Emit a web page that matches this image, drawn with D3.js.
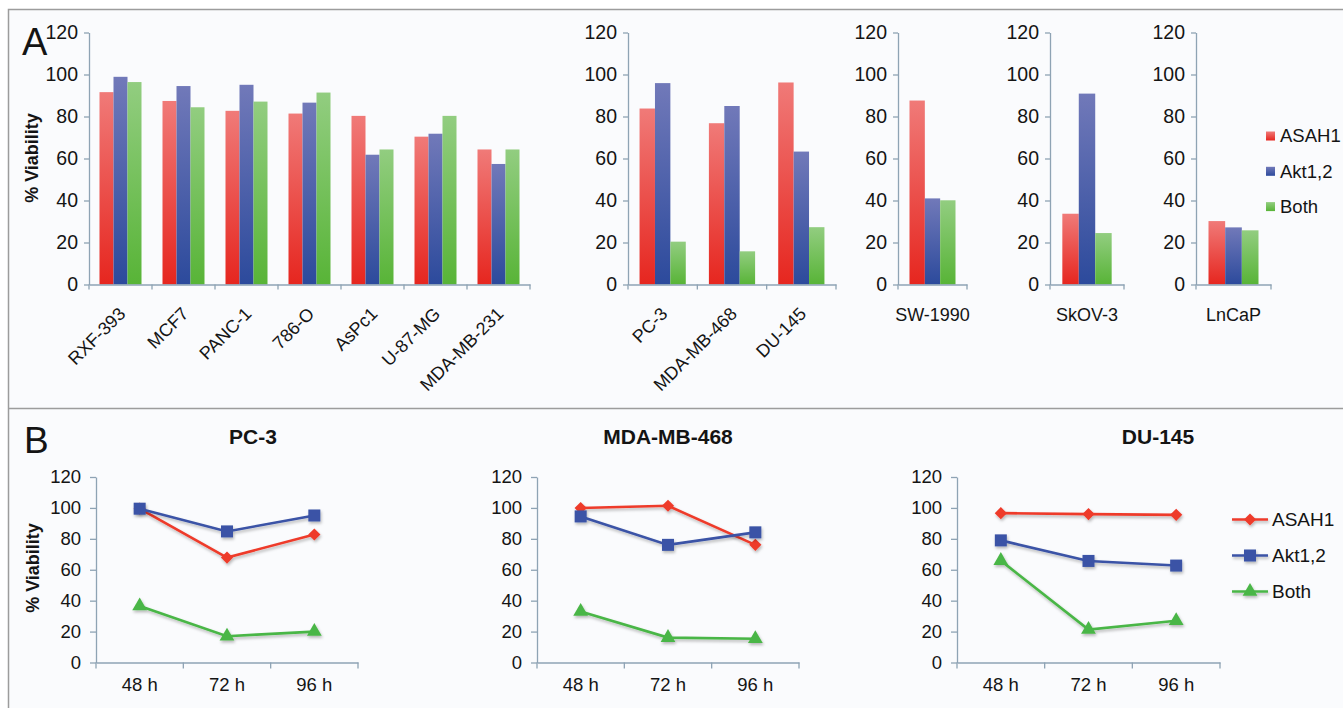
<!DOCTYPE html>
<html>
<head>
<meta charset="utf-8">
<script src="https://cdn.jsdelivr.net/npm/d3@7/dist/d3.min.js"></script>
<style>
  html, body { margin: 0; padding: 0; background: #ffffff; }
  svg { display: block; font-family: "Liberation Sans", Arial, Helvetica, sans-serif; }
</style>
</head>
<body>
<svg id="chart" width="1343" height="708"></svg>
<script>
// ---- data ----
const yTicks = [0, 20, 40, 60, 80, 100, 120];
const seriesNames = ["ASAH1", "Akt1,2", "Both"];

// Panel A: % viability per cell line
const barCategories = ["RXF-393", "MCF7", "PANC-1", "786-O", "AsPc1", "U-87-MG", "MDA-MB-231",
                       "PC-3", "MDA-MB-468", "DU-145", "SW-1990", "SkOV-3", "LnCaP"];
const barASAH1 = [91.6, 87.4, 82.7, 81.4, 80.3, 70.4, 64.3, 83.8, 76.8, 96.2, 87.6, 33.7, 30.2];
const barAkt   = [98.9, 94.5, 95.1, 86.6, 61.8, 71.8, 57.4, 95.9, 85.0, 63.3, 41.0, 90.9, 27.2];
const barBoth  = [96.4, 84.4, 87.1, 91.4, 64.3, 80.3, 64.3, 20.4, 15.8, 27.3, 40.1, 24.5, 25.8];

// Panel B: time course
const timePoints = ["48 h", "72 h", "96 h"];
const lineTitles = ["PC-3", "MDA-MB-468", "DU-145"];
const lineASAH1 = [[99.5, 67.9, 82.8], [99.9, 101.4, 76.1], [96.6, 96.0, 95.5]];
const lineAkt   = [[99.5, 84.8, 95.1], [94.5, 76.1, 84.2], [79.0, 65.7, 62.7]];
const lineBoth  = [[36.5, 17.0, 20.0], [33.0, 16.1, 15.4], [65.9, 21.3, 27.0]];

// ---- styling ----
const axisColor = "#8ea3b4";
const textColor = "#141414";
const barGrad = [
  { top: "#f07a78", bottom: "#e6261f" },
  { top: "#7179b9", bottom: "#2c4a9c" },
  { top: "#92cd80", bottom: "#58b437" }
];
const lineColors = ["#ee3b2b", "#3a53a6", "#4ab646"];

const svg = d3.select("#chart");
const defs = svg.append("defs");

barGrad.forEach((g, i) => {
  const lg = defs.append("linearGradient").attr("id", "bar" + i)
    .attr("x1", 0).attr("y1", 0).attr("x2", 0).attr("y2", 1);
  lg.append("stop").attr("offset", "0%").attr("stop-color", g.top);
  lg.append("stop").attr("offset", "100%").attr("stop-color", g.bottom);
});

const shadow = defs.append("filter").attr("id", "shadow")
  .attr("x", "-20%").attr("y", "-20%").attr("width", "140%").attr("height", "160%");
shadow.append("feDropShadow").attr("dx", 1).attr("dy", 2).attr("stdDeviation", 1.6)
  .attr("flood-color", "#000").attr("flood-opacity", 0.28);

// background and frame
svg.append("rect").attr("x", 8.5).attr("y", 9.5).attr("width", 1345).attr("height", 710)
  .attr("fill", "#fafbfd").attr("stroke", "#9c9c9c").attr("stroke-width", 1.5);
svg.append("line").attr("x1", 8.5).attr("x2", 1343).attr("y1", 408.5).attr("y2", 408.5)
  .attr("stroke", "#9c9c9c").attr("stroke-width", 1.5);

svg.append("text").attr("x", 22).attr("y", 55).attr("font-size", 38).attr("fill", textColor).text("A");
svg.append("text").attr("x", 24).attr("y", 453).attr("font-size", 37).attr("fill", textColor).text("B");

function styleAxis(g) {
  g.select(".domain").attr("stroke", axisColor).attr("stroke-width", 1.3);
  g.selectAll(".tick line").attr("stroke", axisColor).attr("stroke-width", 1.3);
  g.selectAll(".tick text").attr("fill", textColor);
}

// ---- Panel A: grouped bars ----
const barValues = [barASAH1, barAkt, barBoth];
const yA = d3.scaleLinear().domain([0, 120]).range([284.5, 32.5]);

const barPanels = [
  { from: 0, to: 7, x0: 89, x1: 530, rotate: true, title: true },
  { from: 7, to: 10, x0: 628, x1: 836, rotate: true },
  { from: 10, to: 11, x0: 898, x1: 967 },
  { from: 11, to: 12, x0: 1050, x1: 1124 },
  { from: 12, to: 13, x0: 1196, x1: 1271 }
];

barPanels.forEach(p => {
  const cats = barCategories.slice(p.from, p.to);
  const x = d3.scaleBand().domain(cats).range([p.x0, p.x1]).paddingInner(1 / 3).paddingOuter(1 / 6);
  const xs = d3.scaleBand().domain(seriesNames).range([0, x.bandwidth()]);
  const g = svg.append("g");

  cats.forEach((c, ci) => {
    const idx = p.from + ci;
    seriesNames.forEach((s, si) => {
      const v = barValues[si][idx];
      g.append("rect")
        .attr("x", x(c) + xs(s))
        .attr("width", xs.bandwidth())
        .attr("y", yA(v))
        .attr("height", yA(0) - yA(v))
        .attr("fill", "url(#bar" + si + ")");
    });
  });

  const ya = g.append("g").attr("transform", `translate(${p.x0},0)`)
    .call(d3.axisLeft(yA).tickValues(yTicks).tickSize(5).tickSizeOuter(0).tickPadding(6));
  ya.selectAll(".tick text").attr("font-size", 19.5);
  styleAxis(ya);

  const xa = g.append("g").attr("transform", `translate(0,${yA(0)})`)
    .call(d3.axisBottom(x).tickSize(0).tickSizeOuter(0).tickFormat(""));
  styleAxis(xa);
  const step = x.step();
  const bounds = cats.map(c => x(c) - x.paddingOuter() * step).concat([p.x1]);
  xa.selectAll(".bound").data(bounds).join("line").attr("class", "bound")
    .attr("x1", d => d).attr("x2", d => d).attr("y1", 0).attr("y2", 5)
    .attr("stroke", axisColor).attr("stroke-width", 1.3);

  cats.forEach(c => {
    const cx = x(c) + x.bandwidth() / 2;
    if (p.rotate) {
      g.append("text")
        .attr("transform", `translate(${cx + 6},${315}) rotate(-45)`)
        .attr("text-anchor", "end").attr("font-size", 18).attr("fill", textColor).text(c);
    } else {
      g.append("text").attr("x", cx).attr("y", 321)
        .attr("text-anchor", "middle").attr("font-size", 18).attr("fill", textColor).text(c);
    }
  });

  if (p.title) {
    g.append("text").attr("transform", `translate(38,158) rotate(-90)`)
      .attr("text-anchor", "middle").attr("font-size", 18).attr("font-weight", "bold")
      .attr("fill", textColor).text("% Viability");
  }
});

// legend A
seriesNames.forEach((s, i) => {
  const ly = 136 + i * 35.3;
  svg.append("rect").attr("x", 1266).attr("y", ly - 4.5).attr("width", 9).attr("height", 9)
    .attr("fill", "url(#bar" + i + ")");
  svg.append("text").attr("x", 1280).attr("y", ly).attr("dy", "0.35em")
    .attr("font-size", 18.5).attr("fill", textColor).text(s);
});

// ---- Panel B: time courses ----
const yB = d3.scaleLinear().domain([0, 120]).range([662.5, 477]);
const lineValues = [lineASAH1, lineAkt, lineBoth];
const linePanels = [
  { x0: 96, x1: 358, titleX: 253, ytitle: true },
  { x0: 537, x1: 799, titleX: 668 },
  { x0: 957, x1: 1220, titleX: 1158 }
];

function drawMarker(g, kind, cx, cy, color) {
  if (kind === 0) {
    g.append("path").attr("d", d3.symbol().type(d3.symbolDiamond2).size(95)())
      .attr("transform", `translate(${cx},${cy})`).attr("fill", color);
  } else if (kind === 1) {
    g.append("rect").attr("x", cx - 6).attr("y", cy - 6).attr("width", 12).attr("height", 12)
      .attr("fill", color);
  } else {
    g.append("path").attr("d", d3.symbol().type(d3.symbolTriangle).size(95)())
      .attr("transform", `translate(${cx},${cy})`).attr("fill", color);
  }
}

linePanels.forEach((p, pi) => {
  const x = d3.scaleBand().domain(timePoints).range([p.x0, p.x1]);
  const g = svg.append("g");

  const ya = g.append("g").attr("transform", `translate(${p.x0},0)`)
    .call(d3.axisLeft(yB).tickValues(yTicks).tickSize(6).tickSizeOuter(0).tickPadding(9));
  ya.selectAll(".tick text").attr("font-size", 18.5);
  styleAxis(ya);

  const xa = g.append("g").attr("transform", `translate(0,${yB(0)})`)
    .call(d3.axisBottom(x).tickSize(0).tickSizeOuter(0).tickPadding(15));
  styleAxis(xa);
  xa.selectAll(".tick text").attr("font-size", 18.5).attr("dy", "0.71em");
  const bounds = timePoints.map(t => x(t)).concat([p.x1]);
  xa.selectAll(".bound").data(bounds).join("line").attr("class", "bound")
    .attr("x1", d => d).attr("x2", d => d).attr("y1", 0).attr("y2", 6)
    .attr("stroke", axisColor).attr("stroke-width", 1.3);

  g.append("text").attr("x", p.titleX).attr("y", 444).attr("text-anchor", "middle")
    .attr("font-size", 21).attr("font-weight", "bold").attr("fill", textColor).text(lineTitles[pi]);

  if (p.ytitle) {
    g.append("text").attr("transform", `translate(39,568) rotate(-90)`)
      .attr("text-anchor", "middle").attr("font-size", 18).attr("font-weight", "bold")
      .attr("fill", textColor).text("% Viability");
  }

  const line = d3.line().x((d, i) => x(timePoints[i]) + x.bandwidth() / 2).y(d => yB(d));
  [0, 1, 2].forEach(si => {
    const vals = lineValues[si][pi];
    const sg = g.append("g").attr("filter", "url(#shadow)");
    sg.append("path").attr("d", line(vals)).attr("fill", "none")
      .attr("stroke", lineColors[si]).attr("stroke-width", 2.6);
    vals.forEach((v, i) => drawMarker(sg, si, x(timePoints[i]) + x.bandwidth() / 2, yB(v), lineColors[si]));
  });
});

// legend B
seriesNames.forEach((s, i) => {
  const ly = 519.5 + i * 36;
  const lg = svg.append("g").attr("filter", "url(#shadow)");
  lg.append("line").attr("x1", 1232).attr("x2", 1268).attr("y1", ly).attr("y2", ly)
    .attr("stroke", lineColors[i]).attr("stroke-width", 2.6);
  drawMarker(lg, i, 1250, ly, lineColors[i]);
  svg.append("text").attr("x", 1272).attr("y", ly).attr("dy", "0.35em")
    .attr("font-size", 19).attr("fill", textColor).text(s);
});
</script>
</body>
</html>
